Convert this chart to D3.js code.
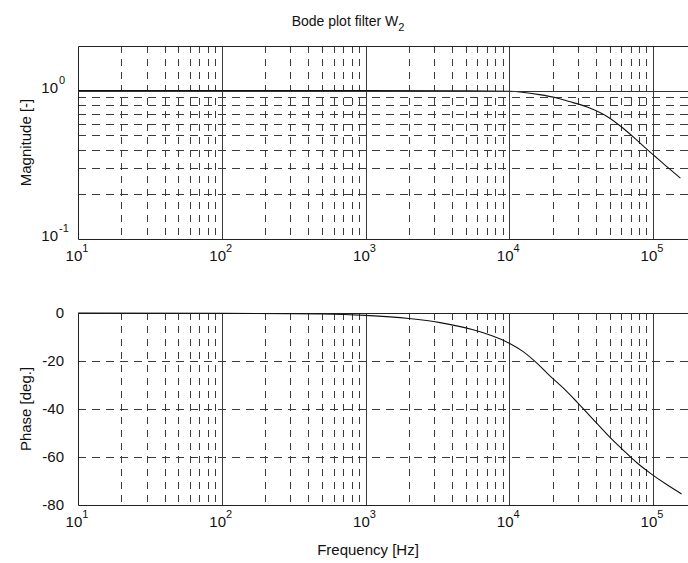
<!DOCTYPE html>
<html>
<head>
<meta charset="utf-8">
<script src="https://cdn.jsdelivr.net/npm/d3@7"></script>
<style>
    body { margin: 0; background: #fff; }
    text { font-family: "Liberation Sans", Arial, Helvetica, sans-serif; fill: #111; }
</style>
</head>
<body>
<div id="chart"></div>
<script>
// values
const magFreq     = [10, 100, 1000, 5000, 10000, 16200, 21400, 27500, 36300, 47900, 61700, 81300, 100000, 126000, 155000];
const magValues   = [1, 1, 1, 0.997, 0.99, 0.94, 0.893, 0.834, 0.764, 0.67, 0.56, 0.443, 0.37, 0.305, 0.257];

const phaseFreq   = [10, 100, 500, 1000, 2000, 3300, 5600, 7500, 10000, 12500, 15500, 19000, 23500, 29500, 40700, 50000, 61700, 77600, 95500, 126000, 158000];
const phaseValues = [0, -0.1, -0.4, -1.0, -2.3, -4.0, -7.0, -9.4, -12.6, -16.1, -20.8, -26, -31, -37, -46, -51.7, -57, -62.5, -66.7, -71.7, -75.4];

const decadeTicks = [10, 100, 1000, 10000, 100000];
const magTicks    = [0.1, 1];
const phaseTicks  = [-80, -60, -40, -20, 0];

const titleText   = "Bode plot filter W";
const titleSub    = "2";
const xLabelText  = "Frequency [Hz]";
const magLabel    = "Magnitude [-]";
const phaseLabel  = "Phase [deg.]";

const width = 688, height = 563;
const gridColor = "#3a3a3a";

const svg = d3.select("#chart").append("svg")
    .attr("width", width)
    .attr("height", height);

// shared x scale, the plot runs past the right edge of the picture
const x = d3.scaleLog().domain([10, 2e5]).range([78, 696.3]);
const left = 78, right = 696.3;

function isDecade(v){
    return Math.abs(Math.log10(v) - Math.round(Math.log10(v))) < 1e-9;
}

function drawPanel(y, top, bottom, hGrid, yLabelFn, label, freq, values){
    let g = svg.append("g");

    // vertical grid, dashed for minor ticks, solid at each decade
    g.selectAll(".vgrid")
        .data(x.ticks().filter(d => d > 10 && d < 2e5))
        .enter()
        .append("line")
        .attr("class", "vgrid")
        .attr("x1", d => Math.round(x(d)) + 0.5)
        .attr("x2", d => Math.round(x(d)) + 0.5)
        .attr("y1", top)
        .attr("y2", bottom)
        .attr("stroke", gridColor)
        .attr("stroke-width", 1)
        .attr("stroke-dasharray", d => isDecade(d) ? null : "7,6");

    // horizontal grid
    g.selectAll(".hgrid")
        .data(hGrid)
        .enter()
        .append("line")
        .attr("class", "hgrid")
        .attr("x1", left)
        .attr("x2", right)
        .attr("y1", d => Math.round(y(d)) + 0.5)
        .attr("y2", d => Math.round(y(d)) + 0.5)
        .attr("stroke", gridColor)
        .attr("stroke-width", 1)
        .attr("stroke-dasharray", "8,6");

    // axes box (right side is cropped)
    g.append("path")
        .attr("d", `M${right},${top + 0.5} H${left + 0.5} V${bottom + 0.5} H${right}`)
        .attr("fill", "none")
        .attr("stroke", "#222")
        .attr("stroke-width", 1);

    // curve
    let line = d3.line()
        .x((d, i) => x(freq[i]))
        .y(d => y(d))
        .curve(d3.curveMonotoneX);

    g.append("path")
        .datum(values)
        .attr("d", line)
        .attr("fill", "none")
        .attr("stroke", "#111")
        .attr("stroke-width", 1.1);

    // x tick labels 10^n
    let xl = g.selectAll(".xlab")
        .data(decadeTicks)
        .enter()
        .append("text")
        .attr("class", "xlab")
        .attr("x", d => x(d) - 1)
        .attr("y", bottom + 22)
        .attr("text-anchor", "middle")
        .style("font-size", "15px");
    xl.append("tspan").text("10");
    xl.append("tspan")
        .attr("dy", -9)
        .style("font-size", "11px")
        .text(d => Math.round(Math.log10(d)));

    // y tick labels
    yLabelFn(g);

    // y axis title
    g.append("text")
        .attr("transform", `translate(31,${(top + bottom) / 2}) rotate(-90)`)
        .attr("text-anchor", "middle")
        .style("font-size", "15px")
        .text(label);
}

// magnitude panel
const yMag = d3.scaleLog().domain([0.1, 2]).range([239, 46]);
drawPanel(yMag, 46, 239,
    yMag.ticks().filter(d => d > 0.1 && d < 1),
    g => {
        g.selectAll(".ylab")
            .data(magTicks)
            .enter()
            .append("text")
            .attr("x", 58)
            .attr("y", d => yMag(d) + 2)
            .attr("text-anchor", "end")
            .style("font-size", "15px")
            .text("10");
        g.selectAll(".yexp")
            .data(magTicks)
            .enter()
            .append("text")
            .attr("x", 59)
            .attr("y", d => yMag(d) - 7)
            .style("font-size", "11px")
            .text(d => Math.round(Math.log10(d)));
    },
    magLabel, magFreq, magValues);

// solid line at 10^0
svg.append("line")
    .attr("x1", left).attr("x2", right)
    .attr("y1", Math.round(yMag(1)) + 0.5).attr("y2", Math.round(yMag(1)) + 0.5)
    .attr("stroke", "#333");

// phase panel
const yPhase = d3.scaleLinear().domain([-80, 0]).range([505, 313]);
drawPanel(yPhase, 313, 505,
    phaseTicks.filter(d => d > -80 && d < 0),
    g => {
        g.selectAll(".ylab")
            .data(phaseTicks)
            .enter()
            .append("text")
            .attr("x", 64)
            .attr("y", d => yPhase(d) + 5)
            .attr("text-anchor", "end")
            .style("font-size", "15px")
            .text(d => d);
    },
    phaseLabel, phaseFreq, phaseValues);

// title and x label
let title = svg.append("text")
    .attr("x", 348)
    .attr("y", 26)
    .attr("text-anchor", "middle")
    .style("font-size", "14px");
title.append("tspan").text(titleText);
title.append("tspan")
    .attr("dy", 5)
    .style("font-size", "11px")
    .text(titleSub);

svg.append("text")
    .attr("x", 368)
    .attr("y", 555)
    .attr("text-anchor", "middle")
    .style("font-size", "15px")
    .text(xLabelText);
</script>
</body>
</html>
